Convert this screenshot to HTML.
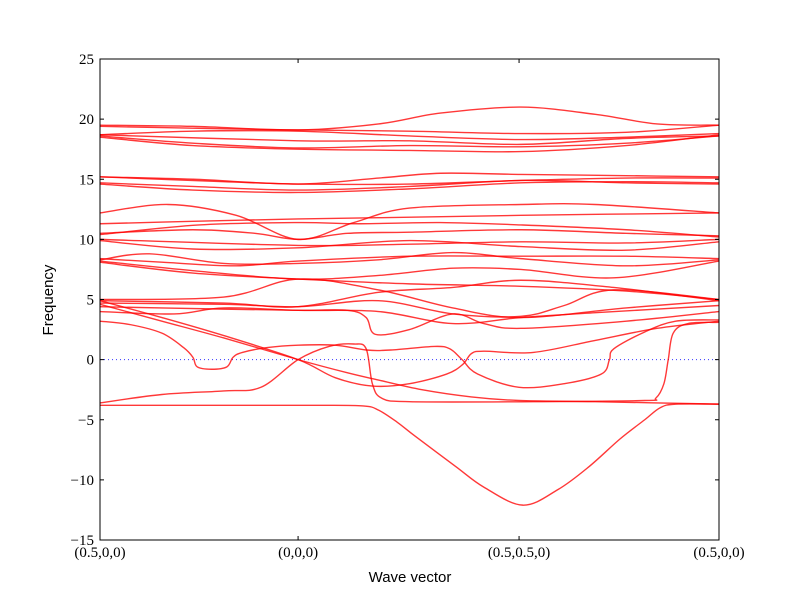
<!DOCTYPE html>
<html><head><meta charset="utf-8"><style>
html,body{margin:0;padding:0;background:#fff;width:800px;height:602px;overflow:hidden}
svg text{font-family:"Liberation Serif",serif;font-size:15px;fill:#000}
</style></head><body>
<svg id="chart" width="800" height="602" viewBox="0 0 800 602" xmlns="http://www.w3.org/2000/svg">
<rect x="0" y="0" width="800" height="602" fill="#fff"/>
<g id="bands"></g>
<g id="axes"></g>
</svg>
<script>
// x-axis: wave-vector path coordinate (percent of path length)
const xTickPos = [0, 32, 67.7, 100];
const xTickLabels = ["(0.5,0,0)", "(0,0,0)", "(0.5,0.5,0)", "(0.5,0,0)"];
const yTicks = [-15, -10, -5, 0, 5, 10, 15, 20, 25];
const yTickLabels = ["\u221215", "\u221210", "\u22125", "0", "5", "10", "15", "20", "25"];

const bandA = [[0,-3.8],[20,-3.8],[35,-3.8],[42.5,-3.85],[45,-4.2],[48,-5.2],[51,-6.4],[57.5,-8.9],[62,-10.6],[68.3,-12.1],[74,-10.8],[79,-8.9],[84,-6.6],[88,-5.0],[90.5,-4.0],[93,-3.7],[100,-3.7]];
const bandB = [[0,-3.6],[10,-2.9],[20,-2.6],[26,-2.3],[32,0],[37,1.1],[41,1.3],[43,0.9],[44,-2],[45.5,-3.2],[50,-3.5],[70,-3.5],[88,-3.4],[89.8,-3.2],[91.1,-2],[91.8,0],[92.6,2.2],[95,3.0],[100,3.1]];
const bandC = [[0,3.2],[5,2.9],[10,2.2],[13.5,1.0],[15,0.2],[15.7,-0.6],[18,-0.8],[20.5,-0.6],[21.5,0.2],[23,0.6],[27,1.0],[32,1.2],[38,1.2],[43,0.8],[47,0.8],[54,1.1],[56.5,0.9],[58.5,0],[61,-1.2],[67.7,-2.3],[75,-2.0],[81,-1.2],[82.3,0],[83,0.9],[88,2.3],[93,3.2],[100,3.3]];
const bandD = [[0,4.9],[10,3.5],[20,2.0],[32,0],[38,-1.5],[44,-2.2],[50,-2.0],[56,-1.2],[58.6,-0.4],[60,0.5],[62,0.7],[70,0.6],[80,1.6],[90,2.6],[100,3.2]];
const bandE = [[0,4.6],[10,3.2],[20,1.8],[32,0],[40,-1.1],[45,-1.7],[52,-2.5],[60,-3.1],[67.7,-3.4],[80,-3.5],[100,-3.7]];
const bandU1 = [[0,12.2],[11,12.9],[22,12.0],[32,10.0],[41,11.4],[50,12.6],[68,12.9],[80,12.9],[100,12.2]];
const bandU2 = [[0,11.3],[15,11.5],[32,11.7],[45,11.8],[68,12.0],[100,12.2]];
const bandU3 = [[0,10.4],[16,11.2],[32,11.4],[42,11.3],[55,11.4],[68,11.2],[85,10.8],[100,10.2]];
const bandU4 = [[0,10.5],[15,10.8],[25,10.5],[32,10.0],[40,10.5],[50,10.6],[68,10.8],[85,10.5],[100,10.3]];
const bandU5 = [[0,10.0],[32,9.5],[50,9.6],[68,9.8],[85,9.7],[100,10.0]];
const bandU6 = [[0,9.9],[15,9.2],[32,9.3],[50,9.9],[68,9.4],[85,9.1],[100,9.8]];
const bandU7 = [[0,8.3],[8,8.8],[20,8.0],[32,8.0],[45,8.3],[57,8.9],[68,8.4],[85,7.8],[100,8.3]];
const bandU8 = [[0,8.4],[10,8.1],[22,7.8],[32,8.2],[50,8.6],[68,8.6],[85,8.6],[100,8.4]];
const bandU9 = [[0,8.2],[15,7.4],[32,6.7],[45,7.0],[57,7.6],[68,7.5],[83,6.8],[100,8.2]];
const bandU10 = [[0,8.1],[15,7.2],[32,6.7],[50,6.3],[68,6.1],[85,5.7],[100,5.0]];
const bandU11 = [[0,5.0],[20,5.2],[32,6.7],[45,5.8],[57,4.3],[68,3.5],[85,4.3],[100,4.9]];
const bandU12 = [[0,4.9],[20,4.7],[32,4.4],[45,5.6],[57,6.0],[68,6.6],[83,6.0],[100,4.9]];
const bandU13 = [[0,4.7],[20,4.6],[32,4.4],[45,4.9],[57,3.8],[68,3.6],[75,4.5],[83,5.8],[100,5.0]];
const bandU14 = [[0,4.4],[20,4.2],[32,4.1],[40,4.1],[43,3.5],[44.5,2.1],[50,2.5],[57,3.8],[62,3.0],[68,2.6],[85,3.2],[100,4.0]];
const bandU15 = [[0,4.0],[12,3.8],[20,4.3],[32,4.1],[45,4.0],[57,3.0],[68,3.5],[80,3.9],[100,4.5]];
const bandM1 = [[0,15.2],[15,15.0],[32,14.6],[45,15.1],[55,15.5],[68,15.4],[85,15.3],[100,15.2]];
const bandM2 = [[0,15.2],[20,14.8],[32,14.6],[50,14.6],[68,14.9],[85,15.1],[100,15.1]];
const bandM3 = [[0,14.7],[15,14.4],[32,14.1],[50,14.4],[68,14.9],[85,14.7],[100,14.6]];
const bandM4 = [[0,14.6],[15,14.1],[32,13.9],[50,14.2],[68,14.7],[85,14.8],[100,14.7]];
const bandT1 = [[0,19.5],[15,19.4],[32,19.1],[45,19.6],[55,20.5],[68,21.0],[80,20.4],[90,19.6],[100,19.5]];
const bandT2 = [[0,19.4],[20,19.2],[32,19.1],[50,19.0],[68,18.8],[85,18.9],[100,19.5]];
const bandT3 = [[0,18.7],[15,19.0],[32,19.0],[50,18.6],[68,18.3],[85,18.5],[100,18.8]];
const bandT4 = [[0,18.7],[32,18.2],[50,18.2],[68,17.9],[85,18.4],[100,18.6]];
const bandT5 = [[0,18.6],[15,18.0],[32,17.6],[50,17.8],[68,17.7],[85,18.0],[100,18.6]];
const bandT6 = [[0,18.5],[15,17.8],[32,17.5],[50,17.4],[68,17.3],[85,17.8],[100,18.7]];

const bands = [bandA,bandB,bandC,bandD,bandE,bandU1,bandU2,bandU3,bandU4,bandU5,bandU6,bandU7,bandU8,bandU9,bandU10,bandU11,bandU12,bandU13,bandU14,bandU15,bandM1,bandM2,bandM3,bandM4,bandT1,bandT2,bandT3,bandT4,bandT5,bandT6];

const L=100,R=719,T=59,B=540, yMin=-15,yMax=25;
const sx = v => L + (v/100)*(R-L);
const sy = v => B - (v-yMin)/(yMax-yMin)*(B-T);
const NS="http://www.w3.org/2000/svg";
function mk(tag,attrs,parent){const e=document.createElementNS(NS,tag);for(const k in attrs)e.setAttribute(k,attrs[k]);parent.appendChild(e);return e;}

const gB=document.getElementById('bands');
const zl=mk('line',{x1:L,x2:R,y1:sy(0),y2:sy(0),stroke:'#0000ff','stroke-width':1,'stroke-dasharray':'1,3',opacity:0.8},gB);



function pathFor(pts){
  const p=pts.map(d=>[sx(d[0]),sy(d[1])]);
  let s=`M${p[0][0].toFixed(2)},${p[0][1].toFixed(2)}`;
  for(let i=0;i<p.length-1;i++){
    const p0=p[Math.max(0,i-1)],p1=p[i],p2=p[i+1],p3=p[Math.min(p.length-1,i+2)];
    const c1x=p1[0]+(p2[0]-p0[0])/6,c1y=p1[1]+(p2[1]-p0[1])/6;
    const c2x=p2[0]-(p3[0]-p1[0])/6,c2y=p2[1]-(p3[1]-p1[1])/6;
    s+=` C${c1x.toFixed(2)},${c1y.toFixed(2)} ${c2x.toFixed(2)},${c2y.toFixed(2)} ${p2[0].toFixed(2)},${p2[1].toFixed(2)}`;
  }
  return s;
}
bands.forEach((b,i)=>{
  const el=mk('path',{d:pathFor(b),fill:'none',stroke:'#ff0000','stroke-width':1.4,'stroke-opacity':0.78},gB);
  
  
});

const gA=document.getElementById('axes');
const fr=mk('rect',{x:L,y:T,width:R-L,height:B-T,fill:'none',stroke:'#000','stroke-width':1},gA);


yTicks.forEach((v,i)=>{
  const y=sy(v);
  mk('line',{x1:L,x2:L+4,y1:y,y2:y,stroke:'#000'},gA);
  mk('line',{x1:R-4,x2:R,y1:y,y2:y,stroke:'#000'},gA);
  const t=mk('text',{x:L-6,y:y+5,'text-anchor':'end'},gA);
  t.textContent=yTickLabels[i];
  
  
});
xTickPos.forEach((v,i)=>{
  const x=sx(v);
  mk('line',{x1:x,x2:x,y1:B,y2:B-4,stroke:'#000'},gA);
  mk('line',{x1:x,x2:x,y1:T,y2:T+4,stroke:'#000'},gA);
  const t=mk('text',{x:x,y:B+17,'text-anchor':'middle'},gA);
  t.textContent=xTickLabels[i];
  
  
});
const xt=mk('text',{x:410,y:582,'text-anchor':'middle',style:'font-family:"Liberation Sans",sans-serif;font-size:15px'},gA);
xt.textContent='Wave vector';


const yt=mk('text',{x:0,y:0,'text-anchor':'middle',transform:'translate(53,300) rotate(-90)',style:'font-family:"Liberation Sans",sans-serif;font-size:15px'},gA);
yt.textContent='Frequency';


</script>
</body></html>
